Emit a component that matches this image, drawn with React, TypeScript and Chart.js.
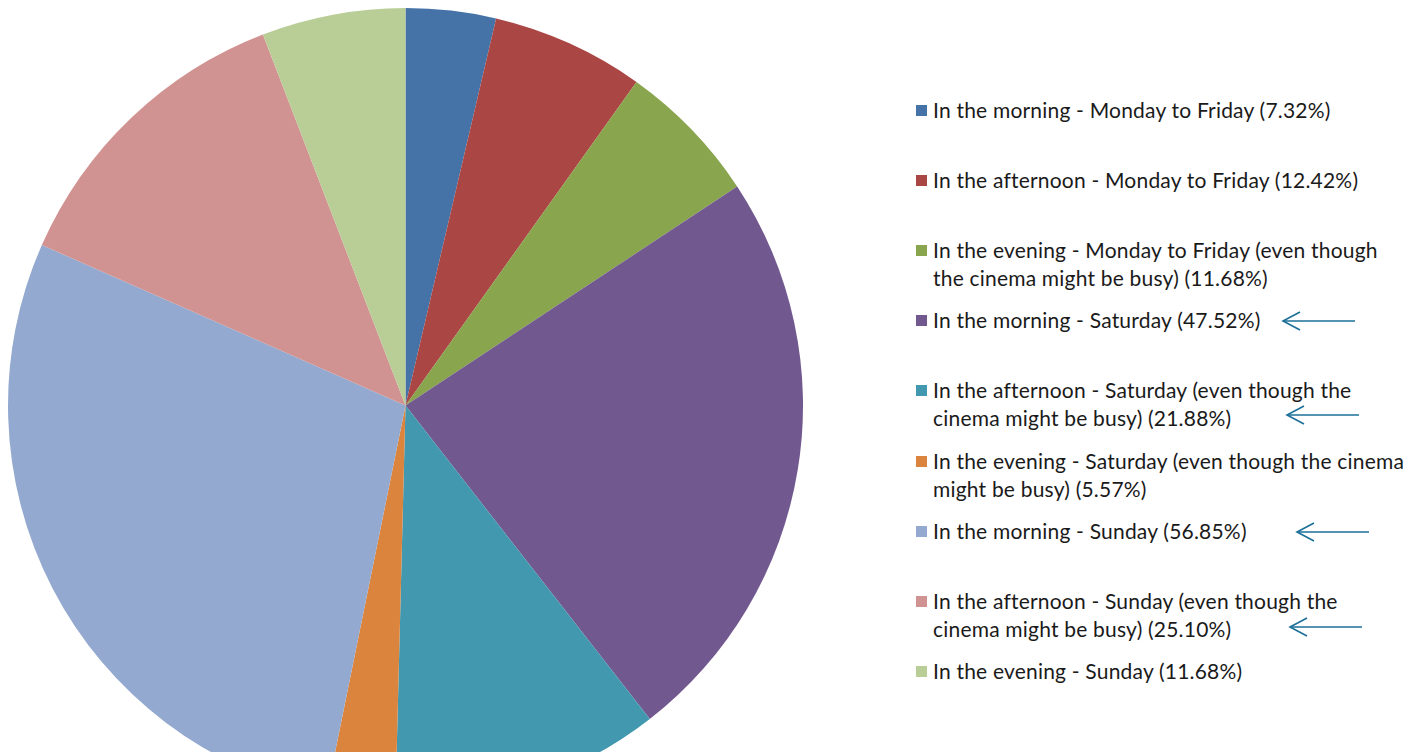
import React, { useEffect, useRef } from "react";
import { Chart, registerables } from "chart.js";

Chart.register(...registerables);

const labels = [
  "In the morning - Monday to Friday",
  "In the afternoon - Monday to Friday",
  "In the evening - Monday to Friday (even though the cinema might be busy)",
  "In the morning - Saturday",
  "In the afternoon - Saturday (even though the cinema might be busy)",
  "In the evening - Saturday (even though the cinema might be busy)",
  "In the morning - Sunday",
  "In the afternoon - Sunday (even though the cinema might be busy)",
  "In the evening - Sunday",
];
const values = [7.32, 12.42, 11.68, 47.52, 21.88, 5.57, 56.85, 25.1, 11.68];
const colors = [
  "#4572A7",
  "#AA4643",
  "#89A54E",
  "#71588F",
  "#4198AF",
  "#DB843D",
  "#93A9CF",
  "#D19392",
  "#B9CD96",
];
// annotation arrows: legend item index and arrow start x (px)
const arrowItems = [3, 4, 6, 7];
const arrowStartX = [1283, 1287, 1297, 1290];
const arrowDy = [0, 24, 0, 25];

const FONT = "Lato, 'Open Sans', sans-serif";
const ITEM_STEP = 70.1;
const FIRST_TOP = 96;
const LINE_H = 28;

export default function App() {
  const ref = useRef<HTMLCanvasElement | null>(null);
  useEffect(() => {
    if (!ref.current) return;
    const chart = new Chart(ref.current, {
      type: "pie",
      data: {
        labels,
        datasets: [
          {
            data: values,
            backgroundColor: colors,
            borderWidth: 0,
          },
        ],
      },
      options: {
        responsive: false,
        animation: false,
        layout: { padding: 8 },
        plugins: {
          legend: { display: false },
          tooltip: { enabled: false },
        },
      },
    });
    return () => chart.destroy();
  }, []);

  return (
    <div
      style={{
        position: "fixed",
        left: 0,
        top: 0,
        width: 1412,
        height: 752,
        overflow: "hidden",
        background: "#fff",
      }}
    >
      <canvas
        ref={ref}
        width={811}
        height={811}
        style={{ position: "absolute", left: 0, top: 0, width: 811, height: 811 }}
      />
      {labels.map((l, i) => (
        <div
          key={i}
          style={{
            position: "absolute",
            left: 916,
            top: Math.round(FIRST_TOP + ITEM_STEP * i),
            width: 500,
            display: "flex",
            alignItems: "flex-start",
            fontFamily: FONT,
            fontSize: 21,
            letterSpacing: 0.2,
            lineHeight: LINE_H + "px",
            color: "#1a1a1a",
          }}
        >
          <span
            style={{
              display: "inline-block",
              width: 11,
              height: 11,
              marginTop: 9,
              marginRight: 6,
              background: colors[i],
              flex: "0 0 auto",
            }}
          />
          <span style={{ maxWidth: 474 }}>
            {l} ({values[i].toFixed(2)}%)
          </span>
        </div>
      ))}
      <svg
        width={1412}
        height={752}
        style={{ position: "absolute", left: 0, top: 0, pointerEvents: "none" }}
      >
        {arrowItems.map((idx, k) => {
          const y = Math.round(FIRST_TOP + ITEM_STEP * idx) + 14 + arrowDy[k] + 1;
          const x = arrowStartX[k];
          return (
            <g key={k} stroke="#1B6F98" strokeWidth={1.6} fill="none">
              <line x1={x} y1={y} x2={x + 72} y2={y} />
              <polyline points={`${x + 17},${y - 9} ${x},${y} ${x + 17},${y + 9}`} />
            </g>
          );
        })}
      </svg>
    </div>
  );
}
